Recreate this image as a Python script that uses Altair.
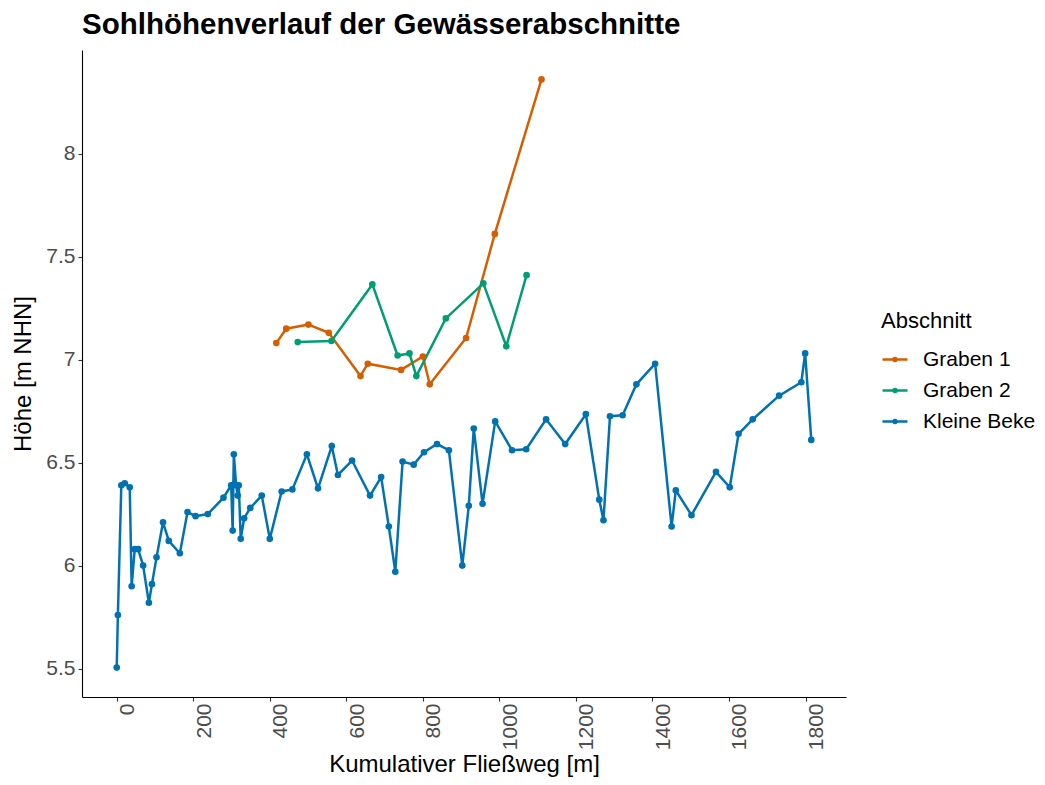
import altair as alt
import pandas as pd

# Kleine Beke
kb_x = [0, 3, 12, 21, 34, 39, 47, 56, 69, 84, 92, 104, 121, 136, 165, 185, 206, 238, 279,
        299, 303, 306, 312, 316, 319, 324, 333, 349, 379, 400, 431, 459, 497, 526, 562, 578,
        615, 662, 691, 711, 728, 747, 776, 803, 837, 868, 903, 920, 933, 956, 989, 1033, 1070,
        1122, 1172, 1226, 1261, 1272, 1289, 1322, 1358, 1407, 1450, 1461, 1502, 1566, 1602,
        1625, 1662, 1731, 1789, 1799, 1815]
kb_y = [5.505, 5.76, 6.39, 6.40, 6.38, 5.90, 6.08, 6.08, 6.00, 5.82, 5.91, 6.04, 6.21, 6.12,
        6.06, 6.26, 6.24, 6.25, 6.33, 6.39, 6.17, 6.54, 6.39, 6.34, 6.39, 6.13, 6.23, 6.28,
        6.34, 6.13, 6.36, 6.37, 6.54, 6.375, 6.58, 6.44, 6.51, 6.34, 6.43, 6.19, 5.97, 6.505,
        6.49, 6.55, 6.59, 6.56, 6.00, 6.29, 6.665, 6.30, 6.70, 6.56, 6.565, 6.71, 6.59, 6.735,
        6.32, 6.22, 6.725, 6.73, 6.88, 6.98, 6.19, 6.365, 6.245, 6.455, 6.38, 6.64, 6.71,
        6.825, 6.89, 7.03, 6.61]

# Graben 1
g1_x = [417, 443, 501, 554, 637, 656, 743, 800, 818, 913, 988, 1110]
g1_y = [7.08, 7.15, 7.17, 7.13, 6.92, 6.98, 6.95, 7.015, 6.88, 7.105, 7.61, 8.36]

# Graben 2
g2_x = [473, 561, 668, 734, 765, 783, 860, 958, 1018, 1071]
g2_y = [7.085, 7.09, 7.365, 7.02, 7.03, 6.92, 7.20, 7.37, 7.065, 7.41]

series = ["Graben 1", "Graben 2", "Kleine Beke"]
colors = ["#D55E00", "#009E73", "#0072B2"]
x_ticks = [0, 200, 400, 600, 800, 1000, 1200, 1400, 1600, 1800]
y_ticks = [5.5, 6, 6.5, 7, 7.5, 8]

rows = []
for name, xs, ys in [("Graben 1", g1_x, g1_y), ("Graben 2", g2_x, g2_y), ("Kleine Beke", kb_x, kb_y)]:
    for a, b in zip(xs, ys):
        rows.append({"Abschnitt": name, "x": a, "y": b})
df = pd.DataFrame(rows)

FONT = "Liberation Sans"

xmin, xmax = min(kb_x), max(kb_x)
ymin, ymax = min(kb_y), max(g1_y)
xe = (xmax - xmin) * 0.05
ye = (ymax - ymin) * 0.05

xenc = alt.X("x:Q", title="Kumulativer Fließweg [m]",
             scale=alt.Scale(domain=[xmin - xe, xmax + xe], nice=False, zero=False),
             axis=alt.Axis(values=x_ticks, format="d", labelAngle=270, labelAlign="right",
                           labelBaseline="top", grid=False, labelPadding=2,
                           titlePadding=3))
yenc = alt.Y("y:Q", title="Höhe [m NHN]",
             scale=alt.Scale(domain=[ymin - ye, ymax + ye], nice=False, zero=False),
             axis=alt.Axis(values=y_ticks, format=".1~f", grid=False, labelPadding=3,
                           titlePadding=10))
legend_symbol = "M-1,0H1M-0.12,0A0.12,0.12 0 1,1 0.12,0A0.12,0.12 0 1,1 -0.12,0"
cenc = alt.Color("Abschnitt:N", title="Abschnitt",
                 scale=alt.Scale(domain=series, range=colors),
                 legend=alt.Legend(orient="none", legendX=799, legendY=261,
                                   symbolType=legend_symbol, symbolSize=625,
                                   symbolStrokeWidth=2.5, rowPadding=7,
                                   titlePadding=12.5, labelOffset=14, padding=0))

lines = alt.Chart(df).mark_line(strokeWidth=2.5).encode(x=xenc, y=yenc, color=cenc)
points = alt.Chart(df).mark_circle(size=44, opacity=1).encode(x=xenc, y=yenc, color=cenc)

chart = (lines + points).properties(
    width=764, height=647,
    title=alt.TitleParams("Sohlhöhenverlauf der Gewässerabschnitte", anchor="start",
                          frame="group", font=FONT, fontSize=29.5, fontWeight="bold",
                          color="black", offset=10),
    autosize=alt.AutoSizeParams(type="none"),
    padding={"left": 74, "top": 42, "right": 191, "bottom": 80},
).configure_view(stroke=None).configure_axis(
    domainColor="black", domainWidth=1.1, tickColor="#333333", tickWidth=1.1, tickSize=4,
    labelFont=FONT, labelFontSize=21, labelColor="#4D4D4D",
    titleFont=FONT, titleFontSize=24, titleColor="black", titleFontWeight="normal",
).configure_legend(
    titleFont=FONT, titleFontSize=22, titleFontWeight="normal", titleColor="black",
    labelFont=FONT, labelFontSize=21, labelColor="black",
)

chart.save("out.html", embed_options={"renderer": "svg", "actions": False})
